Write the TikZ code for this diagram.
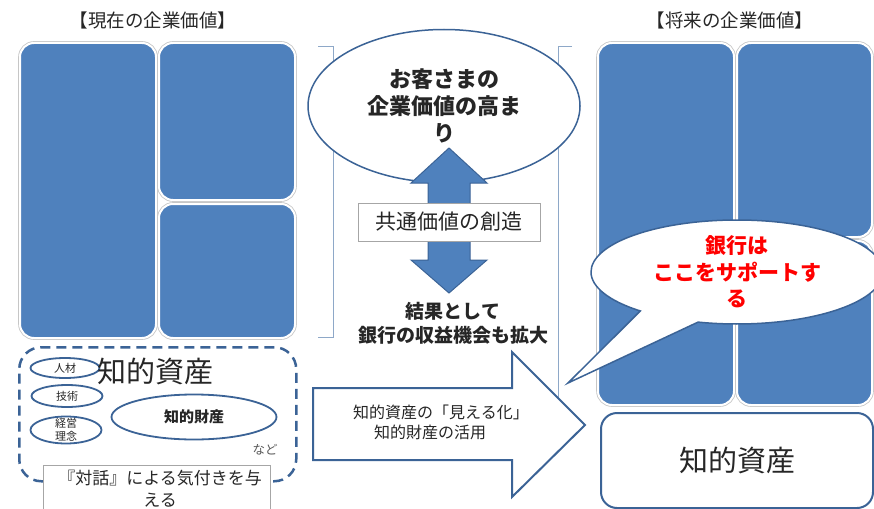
\documentclass[tikz,border=0pt]{standalone}
\usepackage{fontspec}
\setmainfont{Noto Sans CJK JP}
\usetikzlibrary{shapes.geometric,shapes.callouts}
\definecolor{blk}{HTML}{4F81BD}
\definecolor{edge}{HTML}{3B6396}
\definecolor{brk}{HTML}{8EA8C8}
\definecolor{boxg}{HTML}{A6A6A6}
\definecolor{txt}{HTML}{262626}
\begin{document}
\begin{tikzpicture}[x=1pt,y=-1pt,
  tm/.style={rectangle, rounded corners=14pt, fill=blk, draw=white, line width=2pt,
    preaction={draw=gray!45, line width=3.6pt}, anchor=north west, inner sep=0pt},
  sel/.style={ellipse, draw=edge, line width=1.8pt, fill=white, inner sep=0pt,
    font=\fontsize{11}{13}\selectfont, text=txt},
  gbox/.style={rectangle, draw=boxg, fill=white, line width=0.8pt, inner sep=0pt},
  bracketline/.style={draw=brk, line width=1pt},
  every node/.append style={text=txt}]
\useasboundingbox (0,0) rectangle (874,508);

% titles
\node[font=\fontsize{18.5}{18.5}\selectfont] (t1) at (153,20) {【現在の企業価値】};
\node[font=\fontsize{18.5}{18.5}\selectfont] (t2) at (730,20) {【将来の企業価値】};

% left treemap
\node[tm, minimum width=136pt, minimum height=295pt] (L1) at (19,42) {};
\node[tm, minimum width=136pt, minimum height=157pt] (L2) at (158,42) {};
\node[tm, minimum width=136pt, minimum height=134pt] (L3) at (158,203) {};

% right treemap
\node[tm, minimum width=136pt, minimum height=362pt] (R1) at (597,42) {};
\node[tm, minimum width=135pt, minimum height=194pt] (R2) at (736,42) {};
\node[tm, minimum width=135pt, minimum height=164pt] (R3) at (736,240) {};

% dashed intellectual assets box
\node[draw=edge, dash pattern=on 10pt off 6pt, line width=2.5pt, rounded corners=22pt,
  minimum width=277pt, minimum height=134pt, anchor=north west, fill=white, inner sep=0pt] (da) at (18,346) {};
\node[gbox, minimum width=227pt, minimum height=46pt, anchor=north west] (tb) at (43,465) {};
\node[font=\fontsize{17}{22}\selectfont, align=center] (tbt) at (160,489) {『対話』による気付きを与\\える};

\node[sel, minimum width=69pt, minimum height=20pt] (e1) at (65,368) {人材};
\node[sel, minimum width=71pt, minimum height=22pt] (e2) at (67,396) {技術};
\node[sel, minimum width=71pt, minimum height=27pt] (e3) at (66,430) {};
\node[font=\fontsize{11}{13}\selectfont, align=center] (e3t) at (66,430) {経営\\理念};
\node[sel, minimum width=165pt, minimum height=45pt, font=\bfseries\fontsize{15}{15}\selectfont] (e4) at (194,417) {知的財産};
\node[font=\fontsize{29}{29}\selectfont] (ca) at (155,371) {知的資産};
\node[font=\fontsize{12.5}{13}\selectfont, text=black!65] (nd) at (265,450) {など};

% brackets
\draw[bracketline] (318,47) -- (333,47) -- (333,337) -- (318,337);
\draw[bracketline] (572,47) -- (558,47) -- (558,425) -- (572,425);

% center ellipse
\node[ellipse, draw=edge, line width=1.5pt, fill=white, minimum width=272pt, minimum height=153pt,
  inner sep=0pt, align=center, font=\bfseries\fontsize{22}{27}\selectfont] (ce) at (444,106)
  {お客さまの\\企業価値の高ま\\り};

% double arrow
\draw[fill=blk, draw=edge, line width=1pt] (449,148) -- (487,183) -- (470,183) -- (470,260)
  -- (487,260) -- (449,293) -- (411,260) -- (428,260) -- (428,183) -- (411,183) -- cycle;

\node[gbox, minimum width=182pt, minimum height=38pt, font=\fontsize{21}{21}\selectfont] (cv) at (449,222) {共通価値の創造};

\node[font=\bfseries\fontsize{19}{24}\selectfont, align=center] (kk) at (453,323) {結果として\\銀行の収益機会も拡大};

% big arrow
\draw[fill=white, draw=edge, line width=2pt] (313,388) -- (512,388) -- (512,352) -- (585,425)
  -- (512,497) -- (512,460) -- (313,460) -- cycle;
\node[font=\fontsize{16}{16}\selectfont] (a1) at (441,412) {知的資産の「見える化」};
\node[font=\fontsize{16}{16}\selectfont] (a2) at (430,432) {知的財産の活用};

% right intellectual assets box
\node[draw=edge, line width=2pt, fill=white, rounded corners=16pt, minimum width=272pt,
  minimum height=95pt, anchor=north west, inner sep=0pt] (rb) at (600,412) {};
\node[font=\fontsize{29}{29}\selectfont] (rbt) at (737,460) {知的資産};

% speech bubble
\node[ellipse callout, draw=edge, line width=1.5pt, fill=white, minimum width=292pt,
  minimum height=104pt, inner sep=0pt, callout absolute pointer={(568,383)},
  callout pointer arc=26] (bb) at (737,272) {};
\node[align=center, text=red, font=\bfseries\fontsize{21}{26.5}\selectfont] (bbt) at (737,272)
  {銀行は\\ここをサポートす\\る};
\end{tikzpicture}
\end{document}
